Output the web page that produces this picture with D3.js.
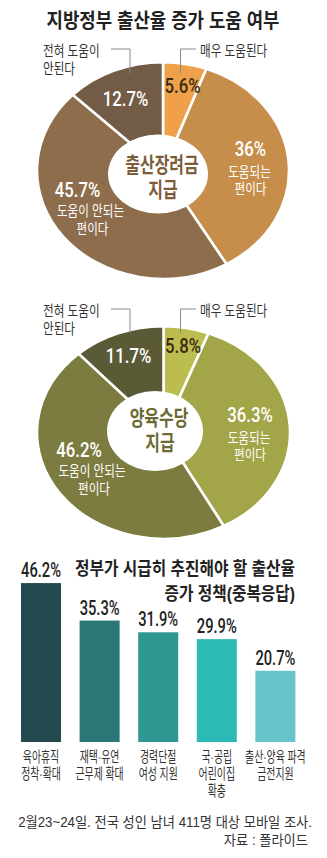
<!DOCTYPE html>
<html><head><meta charset="utf-8">
<script src="https://cdn.jsdelivr.net/npm/d3@7"></script>
<style>
html,body{margin:0;padding:0;background:#fff;}
svg{display:block;}
text{font-family:"Liberation Sans","Noto Sans CJK KR",sans-serif;}
</style></head>
<body>
<svg id="c" width="327" height="858"></svg>
<script>
// ---------- data ----------
const chartTitle = "지방정부 출산율 증가 도움 여부";
const answerLabels = ["매우 도움된다", "도움되는 편이다", "도움이 안되는 편이다", "전혀 도움이 안된다"];
const donutNames = [["출산장려금", "지급"], ["양육수당", "지급"]];
const bonusValues = [5.6, 36, 45.7, 12.7];      // 출산장려금 지급
const allowanceValues = [5.8, 36.3, 46.2, 11.7]; // 양육수당 지급
const barTitle = ["정부가 시급히 추진해야 할 출산율", "증가 정책(중복응답)"];
const barCategories = [["육아휴직", "정착·확대"], ["재택·유연", "근무제 확대"], ["경력단절", "여성 지원"], ["국·공립", "어린이집", "확충"], ["출산·양육 파격", "금전지원"]];
const barValues = [46.2, 35.3, 31.9, 29.9, 20.7];
const footnote = ["2월23~24일. 전국 성인 남녀 411명 대상 모바일 조사.", "자료 : 폴라이드"];

// ---------- helpers ----------
const svg = d3.select("#c");
// (multi-line) text drawn at (x,y); horizontally condensed by a transform (like the narrow press font)
function txt(x, y, lines, o) {
  o = o || {};
  if (!Array.isArray(lines)) lines = [lines];
  const g = svg.append("g");
  const t = g.append("text")
    .attr("font-size", o.size || 14)
    .attr("font-weight", o.weight || 400)
    .attr("fill", o.fill || "#333")
    .attr("text-anchor", o.anchor || "middle");
  if (o.font) t.style("font-family", o.font);
  const spans = lines.map((s, i) => t.append("tspan").attr("x", 0).attr("y", i * (o.lh || 18)).text(s));
  let f = o.squeeze || 1;
  if (o.width) f = o.width / spans[0].node().getComputedTextLength();
  if (o.dxs) spans.forEach((sp, i) => sp.attr("x", (o.dxs[i] || 0) / f));
  g.attr("transform", `translate(${x},${y}) scale(${f},1)`);
  return t;
}
const numFont = "Roboto, 'Liberation Sans', sans-serif";

// ---------- title ----------
txt(163, 28, chartTitle, {size: 20, weight: 700, fill: "#222", width: 233});

// ---------- donuts ----------
function donut(values, colors, cfg) {
  const pie = d3.pie().sort(null).value(d => d);
  const arc = d3.arc().innerRadius(0).outerRadius(cfg.r + 1);
  const g = svg.append("g")
    .attr("transform", `translate(${cfg.cx},${cfg.cy}) scale(1,${cfg.ry / cfg.r})`);
  g.selectAll("path").data(pie(values)).join("path")
    .attr("d", arc)
    .attr("fill", (d, i) => colors[i])
    .attr("stroke", "#fff")
    .attr("stroke-width", 2.6)
    .attr("vector-effect", "non-scaling-stroke");
  svg.append("ellipse").attr("cx", cfg.hx).attr("cy", cfg.hy)
    .attr("rx", cfg.hrx).attr("ry", cfg.hry).attr("fill", "#fff");

  // leader lines
  const ly = cfg.top;
  svg.append("path").attr("d", `M111,${ly}H130V${ly + 24}`)
    .attr("fill", "none").attr("stroke", "#8a8a8a").attr("stroke-width", 1);
  svg.append("path").attr("d", `M196,${ly}H180.5V${ly + 24}`)
    .attr("fill", "none").attr("stroke", "#8a8a8a").attr("stroke-width", 1);
  const outer = answerLabels[3].split(" ");
  txt(43, ly + 7, [outer[0] + " " + outer[1], outer[2]], {size: 14.5, anchor: "start", squeeze: 0.8, lh: 18});
  txt(200, ly + 7, answerLabels[0], {size: 14.5, anchor: "start", squeeze: 0.8});

  const pct = v => v + "%";
  const P = cfg.pos;
  const pOpt = c => ({size: 19.5, weight: 500, fill: c, font: numFont, squeeze: 0.86});
  txt(P[0][0], P[0][1], pct(values[0]), pOpt("#3a2a12"));
  txt(P[1][0], P[1][1], pct(values[1]), pOpt("#fff"));
  txt(P[2][0], P[2][1], pct(values[2]), pOpt("#fff"));
  txt(P[3][0], P[3][1], pct(values[3]), pOpt("#fff"));
  const s1 = answerLabels[1].split(" ");
  txt(P[1][0], P[1][1] + 21, s1, {size: 14.5, fill: "#fff", squeeze: 0.8, lh: 18, dxs: [-1, 0]});
  const s2 = answerLabels[2].split(" ");
  txt(P[2][0] + 13, P[2][1] + 19, [s2[0] + " " + s2[1], s2[2]], {size: 14.5, fill: "#fff", squeeze: 0.8, lh: 18, dxs: [0, 2]});

  txt(cfg.hx + 4, cfg.ny, cfg.name, {size: 21, weight: 700, fill: cfg.nameColor, squeeze: 0.76, lh: 25, dxs: [0, 1]});
}

donut(bonusValues, ["#EEA14A", "#C68E4A", "#8D6D4B", "#725C46"], {
  cx: 163, cy: 170.5, r: 125, ry: 107.5,
  hx: 158, hy: 174, hrx: 50, hry: 39.5,
  top: 49, name: donutNames[0], nameColor: "#7D5C3A", ny: 172,
  pos: [[182.5, 92.5], [250.5, 155.5], [77.5, 197], [125.5, 106]]
});
donut(allowanceValues, ["#BBBE4E", "#A2A548", "#7C7C40", "#5A5A37"], {
  cx: 163.5, cy: 432.5, r: 125.5, ry: 105.5,
  hx: 155, hy: 431, hrx: 48, hry: 40,
  top: 309, name: donutNames[1], nameColor: "#6B6A33", ny: 425,
  pos: [[183, 352.5], [250, 421.5], [79, 457], [128.5, 363]]
});

// ---------- bar chart ----------
txt(295, 575, barTitle, {size: 18, weight: 700, fill: "#222", anchor: "end", width: 220, lh: 25});

const x = d3.scaleBand().domain(d3.range(barValues.length)).range([21, 295.4]).paddingInner(0.317).paddingOuter(0);
const y = d3.scaleLinear().domain([0, 50]).range([742, 570]);
const barColors = ["#234B4F", "#2B7778", "#2F9792", "#2CBAB6", "#66C5CA"];

svg.append("g").selectAll("rect").data(barValues).join("rect")
  .attr("x", (d, i) => x(i)).attr("width", x.bandwidth())
  .attr("y", d => y(d)).attr("height", d => y(0) - y(d))
  .attr("fill", (d, i) => barColors[i]);

barValues.forEach((v, i) => {
  txt(x(i) + x.bandwidth() / 2, y(v) - 6, v + "%", {size: 21, weight: 500, fill: "#222", font: numFont, width: 40});
  txt(x(i) + x.bandwidth() / 2, 762, barCategories[i], {size: 15, fill: "#333", squeeze: 0.66, lh: 17});
});

// ---------- footnote ----------
txt(312, 827, footnote, {size: 14, fill: "#333", anchor: "end", width: 294, lh: 18, dxs: [0, -4]});
</script>
</body></html>
